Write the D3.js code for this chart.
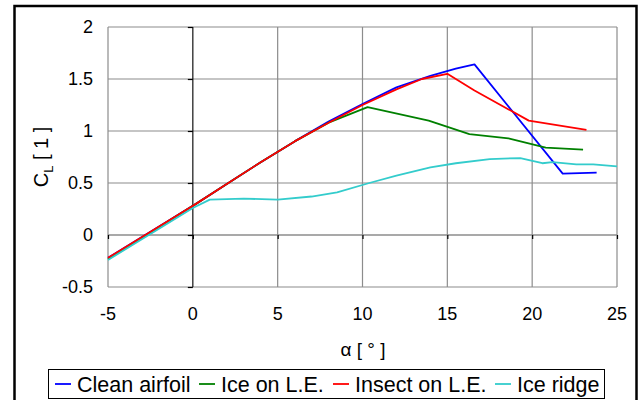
<!DOCTYPE html>
<html>
<head>
<meta charset="utf-8">
<script src="https://cdn.jsdelivr.net/npm/d3@7"></script>
<style>
  body { margin: 0; background: #fff; }
  svg text { font-family: "Liberation Sans", Arial, sans-serif; fill: #000; }
</style>
</head>
<body>
<svg class="chart" width="641" height="400"></svg>
<script>
// Angle of attack ticks and lift coefficient ticks.
var xTicks = [-5, 0, 5, 10, 15, 20, 25];
var yTicks = [-0.5, 0, 0.5, 1, 1.5, 2];

// Series names and colours, in legend order.
var seriesNames = ["Clean airfoil", "Ice on L.E.", "Insect on L.E.", "Ice ridge"];
var seriesColors = ["#0000ff", "#008000", "#ff0000", "#33cccc"];

// Values: [alpha, CL].
var cleanAirfoil = [[-5, -0.22], [0, 0.28], [2, 0.49], [4, 0.70], [6, 0.90], [8, 1.09], [10, 1.26],
    [12, 1.42], [14, 1.53], [15.5, 1.60], [16.6, 1.64], [21.8, 0.59], [23.8, 0.60]];
var iceOnLE = [[-5, -0.23], [0, 0.28], [2, 0.49], [4, 0.70], [6, 0.90], [8, 1.08], [10.3, 1.23],
    [13.9, 1.10], [16.3, 0.97], [18.6, 0.93], [20.8, 0.84], [23, 0.82]];
var insectOnLE = [[-5, -0.22], [0, 0.28], [2, 0.49], [4, 0.70], [6, 0.90], [8, 1.08], [10, 1.25],
    [12, 1.40], [13.5, 1.50], [15, 1.55], [16.6, 1.39], [19.8, 1.10], [23.2, 1.01]];
var iceRidge = [[-5, -0.24], [0, 0.26], [1, 0.34], [3, 0.35], [5, 0.34], [7, 0.37], [8.5, 0.41],
    [10.4, 0.50], [12, 0.57], [14, 0.65], [15.5, 0.69], [17.5, 0.73], [19.3, 0.74], [20.6, 0.69],
    [21.2, 0.70], [22.6, 0.68], [23.6, 0.68], [25, 0.66]];

var seriesData = [cleanAirfoil, iceOnLE, insectOnLE, iceRidge];

var svg = d3.select(".chart");

// Plot area in page pixels.
var x = d3.scaleLinear().domain([-5, 25]).range([108, 617]);
var y = d3.scaleLinear().domain([-0.5, 2]).range([287, 27]);

// Outer chart frame.
svg.append("rect")
    .attr("x", 14.5)
    .attr("y", 6)
    .attr("width", 622)
    .attr("height", 420)
    .attr("fill", "none")
    .attr("stroke", "#000")
    .attr("stroke-width", 2.5);

// Gridlines.
svg.append("g")
    .selectAll("line.gy")
    .data(yTicks)
    .enter().append("line")
    .attr("x1", x(-5)).attr("x2", x(25))
    .attr("y1", function (d) { return y(d); })
    .attr("y2", function (d) { return y(d); })
    .attr("stroke", function (d) { return d === 0 ? "#555" : "#8c8c8c"; })
    .attr("stroke-width", 1.2);

svg.append("g")
    .selectAll("line.gx")
    .data(xTicks)
    .enter().append("line")
    .attr("y1", y(-0.5)).attr("y2", y(2))
    .attr("x1", function (d) { return x(d); })
    .attr("x2", function (d) { return x(d); })
    .attr("stroke", function (d) { return d === 0 ? "#111" : "#8c8c8c"; })
    .attr("stroke-width", 1.2);

// Axis lines through zero, with short ticks like the original.
var yAxis = d3.axisLeft(y).tickValues(yTicks).tickSize(5).tickFormat("");
svg.append("g")
    .attr("transform", "translate(" + x(0) + ",0)")
    .call(yAxis)
    .call(function (g) { g.select(".domain").remove(); })
    .selectAll("line").attr("stroke", "#000").attr("stroke-width", 1.2);

var xAxis = d3.axisBottom(x).tickValues(xTicks).tickSize(4).tickFormat("");
svg.append("g")
    .attr("transform", "translate(0," + y(0) + ")")
    .call(xAxis)
    .call(function (g) { g.select(".domain").remove(); })
    .selectAll("line").attr("stroke", "#000").attr("stroke-width", 1.2);

// Tick labels.
svg.append("g")
    .selectAll("text")
    .data(yTicks)
    .enter().append("text")
    .attr("x", 93)
    .attr("y", function (d) { return y(d) + 6; })
    .attr("text-anchor", "end")
    .style("font-size", "18px")
    .text(function (d) { return d; });

svg.append("g")
    .selectAll("text")
    .data(xTicks)
    .enter().append("text")
    .attr("x", function (d) { return x(d); })
    .attr("y", 320)
    .attr("text-anchor", "middle")
    .style("font-size", "18px")
    .text(function (d) { return d; });

// Axis titles.
var yTitle = svg.append("text")
    .attr("transform", "translate(48,157) rotate(-90)")
    .attr("text-anchor", "middle")
    .style("font-size", "20px");
yTitle.append("tspan").text("C");
yTitle.append("tspan").attr("dy", 5).style("font-size", "13px").text("L");
yTitle.append("tspan").attr("dy", -5).text(" [ 1 ]");

svg.append("text")
    .attr("x", 363)
    .attr("y", 356)
    .attr("text-anchor", "middle")
    .style("font-size", "19px")
    .text("\u03b1 [ \u00b0 ]");

// Series lines.
var line = d3.line()
    .x(function (d) { return x(d[0]); })
    .y(function (d) { return y(d[1]); });

svg.append("g")
    .selectAll("path")
    .data(seriesData)
    .enter().append("path")
    .attr("d", line)
    .attr("fill", "none")
    .attr("stroke", function (d, i) { return seriesColors[i]; })
    .attr("stroke-width", 1.8)
    .attr("stroke-linejoin", "round");

// Legend.
var legendTextX = [77, 221, 355, 517];
svg.append("rect")
    .attr("x", 48.5)
    .attr("y", 369.5)
    .attr("width", 556)
    .attr("height", 29)
    .attr("fill", "#fff")
    .attr("stroke", "#000")
    .attr("stroke-width", 1);

var legendItem = svg.append("g")
    .selectAll("g")
    .data(seriesNames)
    .enter().append("g");

legendItem.append("line")
    .attr("x1", function (d, i) { return legendTextX[i] - 22; })
    .attr("x2", function (d, i) { return legendTextX[i] - 6; })
    .attr("y1", 384).attr("y2", 384)
    .attr("stroke", function (d, i) { return seriesColors[i]; })
    .attr("stroke-width", 1.8);

legendItem.append("text")
    .attr("x", function (d, i) { return legendTextX[i]; })
    .attr("y", 392)
    .style("font-size", "21.5px")
    .text(function (d) { return d; });
</script>
</body>
</html>
